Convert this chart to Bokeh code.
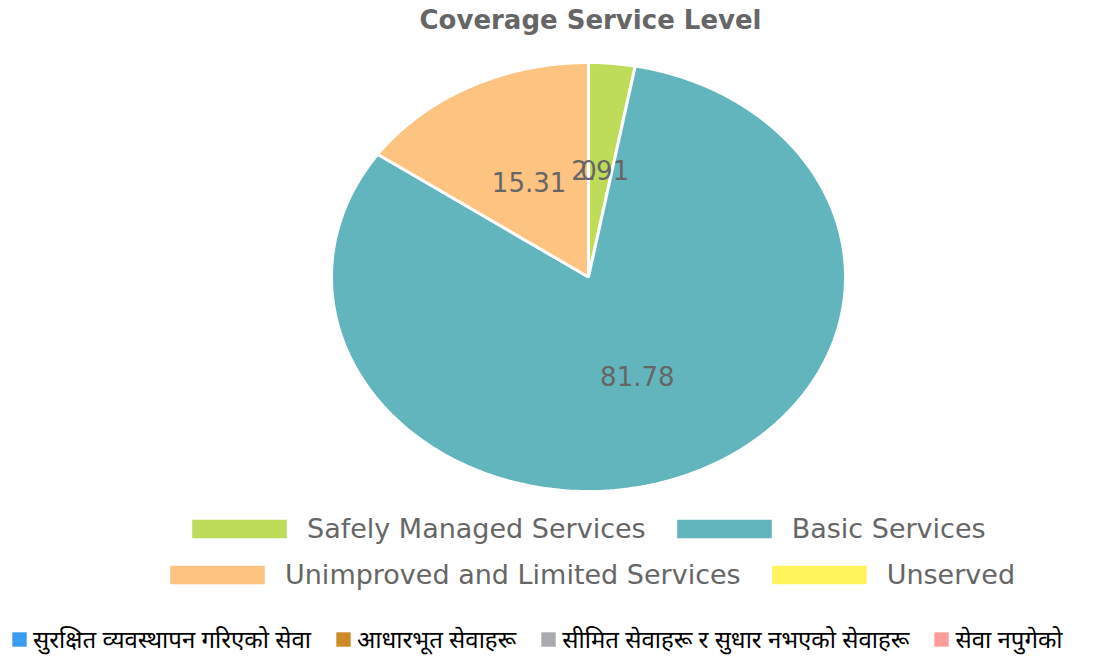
import numpy as np
from bokeh.plotting import figure
from bokeh.models import ColumnDataSource, Range1d, Legend, LegendItem
from bokeh.core.properties import value
from bokeh.embed import file_html
from bokeh.resources import INLINE

# ---------------- data ----------------
chart_title = "Coverage Service Level"
categories = ["Safely Managed Services", "Basic Services",
              "Unimproved and Limited Services", "Unserved"]
values = [2.91, 81.78, 15.31, 0]
colors = ["#bedc5a", "#63b5bd", "#fdc381", "#fff45c"]

np_labels = ["सुरक्षित व्यवस्थापन गरिएको सेवा", "आधारभूत सेवाहरू",
             "सीमित सेवाहरू र सुधार नभएको सेवाहरू", "सेवा नपुगेको"]
np_colors = ["#3a9bf5", "#cd8a26", "#a8aab0", "#ff9c9c"]

# ---------------- layout constants ----------------
W, H = 1078, 656
F = 620                      # frame height (title panel above)
CX, CY = 588, 276.5          # pie centre (canvas px)
RX, RY = 257, 214.5          # pie radii (px)

x_range = Range1d(-CX / RX, (W - CX) / RX)
y_range = Range1d(-(H - CY) / RY, (F - (H - CY)) / RY)

# ---------------- slices ----------------
total = float(sum(values))
xs, ys, lx, ly, txt = [], [], [], [], []
start = 0.0
for v in values:
    end = start + 2 * np.pi * v / total
    n = max(2, int(np.degrees(end - start)) + 2)
    t = np.linspace(start, end, n)
    xs.append([0.0] + list(np.sin(t)))
    ys.append([0.0] + list(np.cos(t)))
    mid = (start + end) / 2
    lx.append(0.5 * np.sin(mid))
    ly.append(0.5 * np.cos(mid))
    txt.append(f"{v:g}")
    start = end

src = ColumnDataSource(dict(xs=xs, ys=ys, color=colors, cat=categories))
lab_src = ColumnDataSource(dict(x=lx, y=ly, text=txt))

p = figure(frame_width=W, frame_height=F, x_range=x_range, y_range=y_range,
           output_backend="svg", toolbar_location=None, min_border=0,
           x_axis_location=None, y_axis_location=None, title=chart_title)
p.grid.visible = False
p.outline_line_color = None
p.background_fill_color = "white"
p.border_fill_color = "white"

p.title.text_font = "DejaVu Sans"
p.title.text_font_style = "bold"
p.title.text_font_size = "26px"
p.title.text_color = "#666666"
p.title.align = "left"
p.title.offset = 419
p.title.standoff = 4

r = p.patches("xs", "ys", source=src, fill_color="color",
              line_color="white", line_width=3)

p.text("x", "y", text="text", source=lab_src,
       text_font=value("DejaVu Sans"), text_font_size="26px",
       text_color="#666666", text_align="center", text_baseline="middle")

def make_legend(idx, loc):
    leg = Legend(items=[LegendItem(label=categories[i], renderers=[r], index=i) for i in idx],
                 location=loc, orientation="horizontal",
                 glyph_width=122, glyph_height=27, label_standoff=7, spacing=17,
                 padding=0, margin=0, border_line_color=None,
                 background_fill_alpha=0,
                 label_text_font="DejaVu Sans", label_text_font_size="27px",
                 label_text_color="#666666")
    p.add_layout(leg, "center")

make_legend([0, 1], (178, 112))
make_legend([2, 3], (156, 66))

np_items = []
for lbl, c in zip(np_labels, np_colors):
    rr = p.quad(left=[np.nan], right=[np.nan], top=[np.nan], bottom=[np.nan],
                fill_color=c, line_color=None)
    np_items.append(LegendItem(label=lbl, renderers=[rr]))
np_leg = Legend(items=np_items, location=(10, 1), orientation="horizontal",
                glyph_width=18, glyph_height=18, label_standoff=5, spacing=23,
                padding=0, margin=0, border_line_color=None,
                background_fill_alpha=0,
                label_text_font="Noto Sans", label_text_font_size="24px",
                label_text_color="#000000")
p.add_layout(np_leg, "center")

open("out.html", "w").write(file_html(p, INLINE))
